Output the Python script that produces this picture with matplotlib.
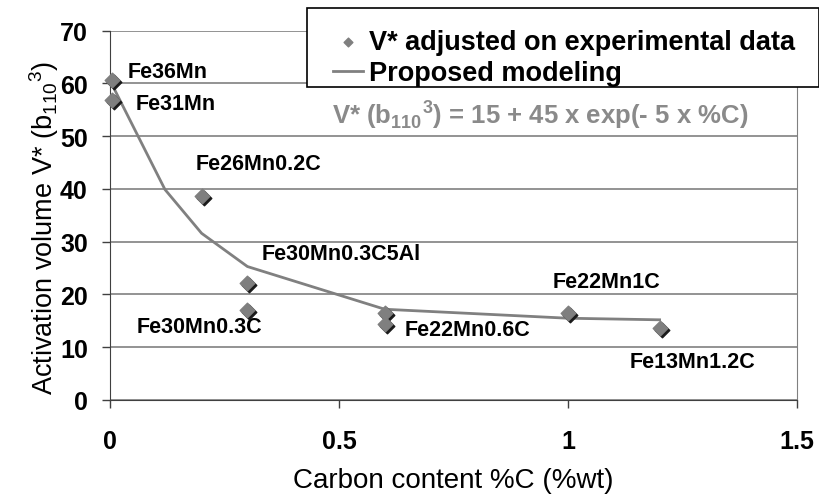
import matplotlib
matplotlib.use('Agg')
import matplotlib.pyplot as plt
import matplotlib.transforms as mtransforms
from matplotlib.patches import Rectangle

plt.rcParams['font.family'] = ['Liberation Sans', 'DejaVu Sans']
plt.rcParams['mathtext.fontset'] = 'custom'
plt.rcParams['mathtext.rm'] = 'Liberation Sans'
plt.rcParams['mathtext.bf'] = 'Liberation Sans:bold'

# experimental points
carbon = [0.005, 0.005, 0.2, 0.3, 0.3, 0.6, 0.6, 1.0, 1.2]
vstar = [60.6, 56.9, 38.7, 22.2, 17.1, 16.4, 14.4, 16.5, 13.6]

# model curve
model_c = [0.005, 0.12, 0.2, 0.3, 0.6, 1.0, 1.2]
model_v = [59.7, 39.9, 31.6, 25.3, 17.2, 15.5, 15.2]

# labels: (name, index of point, offset px from point to text centre)
labels = [
    ('Fe36Mn', 0, (55, 9)),
    ('Fe31Mn', 1, (63, -4)),
    ('Fe26Mn0.2C', 2, (57, 32)),
    ('Fe30Mn0.3C5Al', 3, (94, 29)),
    ('Fe30Mn0.3C', 4, (-48, -17)),
    ('Fe22Mn0.6C', 6, (83, -5)),
    ('Fe22Mn1C', 7, (39, 31)),
    ('Fe13Mn1.2C', 8, (33, -33)),
]

fig = plt.figure(figsize=(8.19, 5.02), dpi=100)
ax = fig.add_axes([110/819, 1 - 401/502, 687/819, 369.3/502])

ax.set_xlim(0, 1.5)
ax.set_ylim(0, 70)
ax.set_xticks([0, 0.5, 1, 1.5])
ax.set_xticklabels(['0', '0.5', '1', '1.5'])
ax.set_yticks(range(0, 71, 10))
ax.yaxis.grid(True, color='#808080', lw=1.2)
ax.set_axisbelow(True)

ax.spines['top'].set_visible(False)
ax.spines['right'].set_color('#808080')
ax.spines['left'].set_color('#404040')
ax.spines['bottom'].set_color('#404040')

ax.tick_params(axis='both', labelsize=18, width=1, length=6, color='#404040')
ax.tick_params(axis='x', pad=15)
ax.tick_params(axis='y', pad=10)
for t in ax.get_xticklabels() + ax.get_yticklabels():
    t.set_fontweight('bold')

ax.plot(model_c, model_v, color='#808080', lw=2, label='Proposed modeling', zorder=3)

shadow = mtransforms.offset_copy(ax.transData, fig=fig, x=2, y=-2, units='dots')
ax.scatter(carbon, vstar, marker='D', s=55, color='#1a1a1a', transform=shadow,
           zorder=4, clip_on=False)
ax.scatter(carbon, vstar, marker='D', s=55, color='#7f7f7f', zorder=5,
           label='V* adjusted on experimental data', clip_on=False)

for name, i, off in labels:
    ax.annotate(name, (carbon[i], vstar[i]), xytext=off, textcoords='offset pixels',
                ha='center', va='center', fontsize=15.5, fontweight='bold')

ax.text(332/819, 1 - 115/502,
        r'V* (b${}_{\mathbf{110}}$${}^{\mathbf{3}}$) = 15 + 45 x exp(- 5 x %C)',
        transform=fig.transFigure, fontsize=18.5, fontweight='bold',
        color='#8a8a8a', va='center', ha='left')

ax.set_xlabel('Carbon content %C (%wt)', fontsize=20, labelpad=10)
ax.set_ylabel(r'Activation volume V* (b${}_{110}$${}^{3}$)', fontsize=19.5)
ax.yaxis.set_label_coords(-0.072, 0.468)

# legend box drawn separately so the rows can sit where they do in the original
box = Rectangle((307/819, 1 - 88/502), 512/819, 79/502, transform=fig.transFigure,
                facecolor='white', edgecolor='black', lw=1.2, clip_on=False, zorder=9)
ax.add_artist(box)

h, l = ax.get_legend_handles_labels()
leg = ax.legend(h[::-1], l[::-1], loc='upper left',
                bbox_to_anchor=(333/819, 1 - 30/502),
                bbox_transform=fig.transFigure, borderaxespad=0, frameon=False,
                fontsize=19.5, handlelength=1.1, handletextpad=0.23, labelspacing=0.2,
                borderpad=0, scatterpoints=1, markerscale=0.6)
for t in leg.get_texts():
    t.set_fontweight('bold')
leg.set_zorder(10)

fig.savefig('out.png', dpi=100)
